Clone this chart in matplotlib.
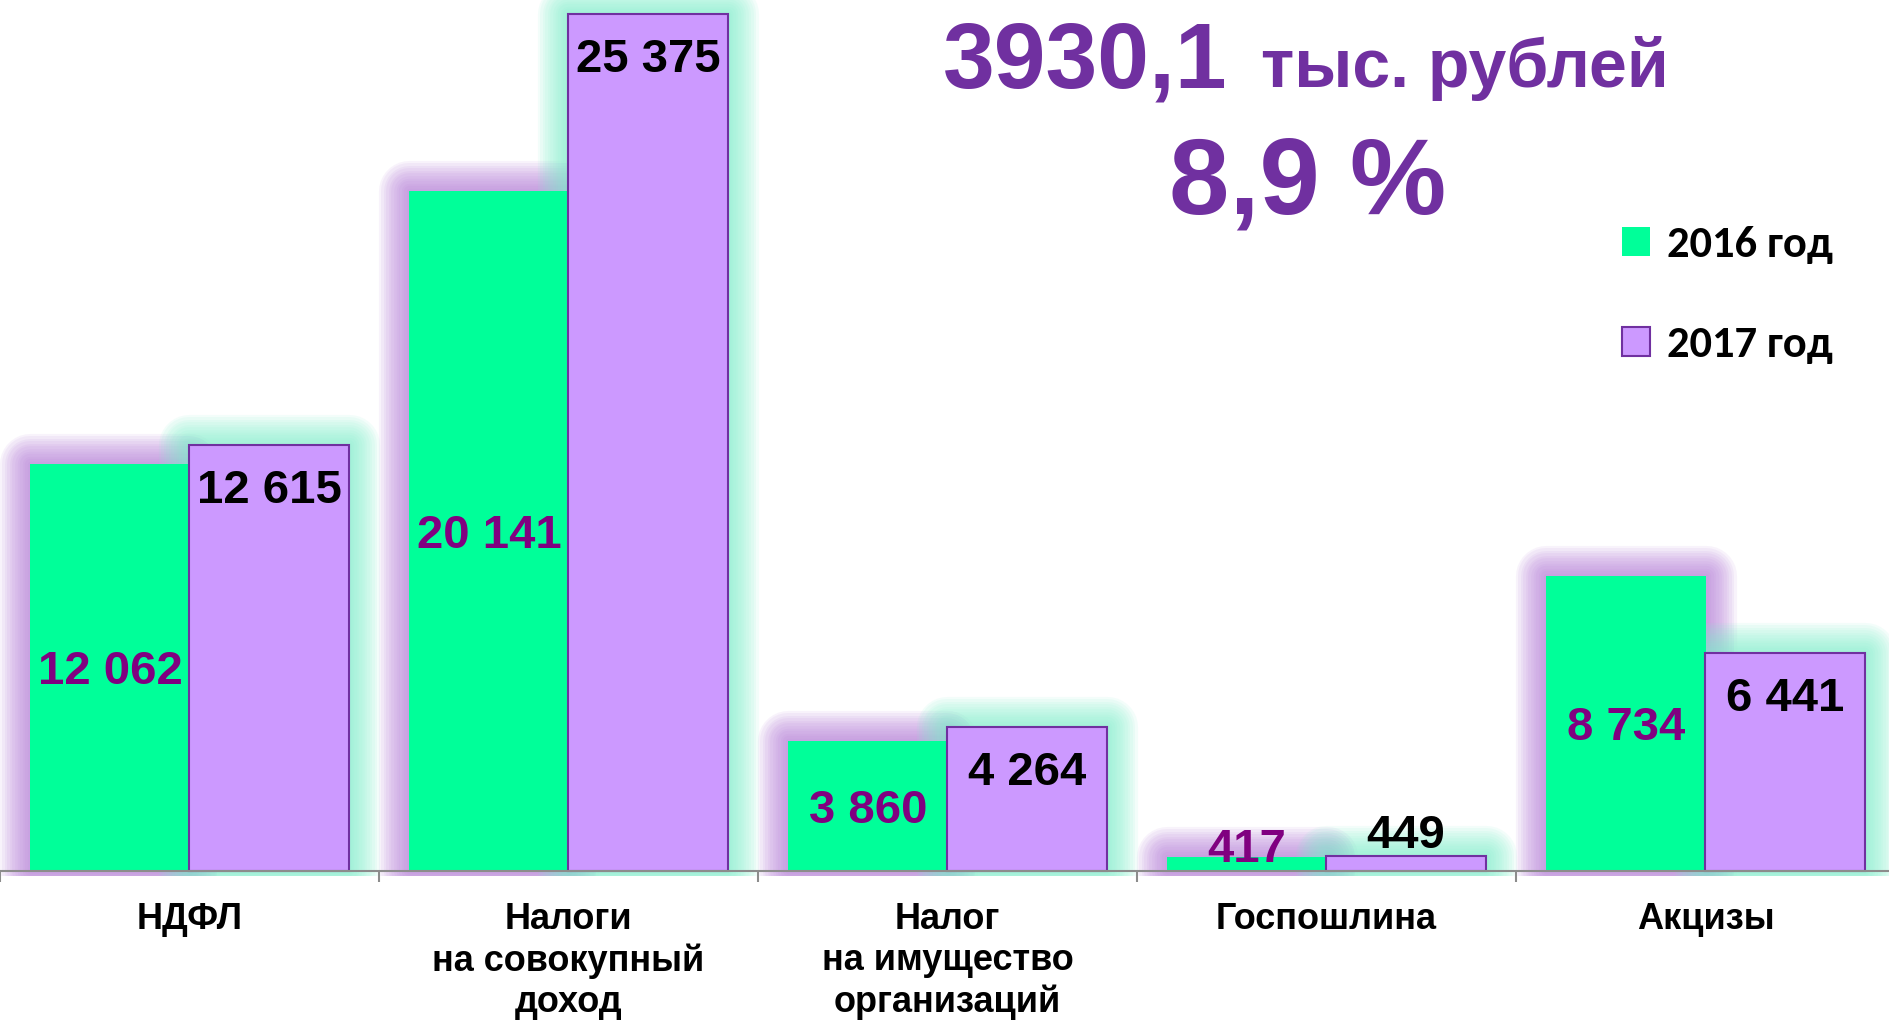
import matplotlib
matplotlib.use("Agg")
import matplotlib.pyplot as plt
import matplotlib.patheffects as pe
from matplotlib.transforms import Bbox, TransformedBbox
import numpy as np

categories = ['НДФЛ', 'Налоги\nна совокупный\nдоход', 'Налог\nна имущество\nорганизаций',
              'Госпошлина', 'Акцизы']
values_2016 = [12062, 20141, 3860, 417, 8734]
values_2017 = [12615, 25375, 4264, 449, 6441]
labels_2016 = ['12 062', '20 141', '3 860', '417', '8 734']
labels_2017 = ['12 615', '25 375', '4 264', '449', '6 441']
series_names = ['2016 год', '2017 год']
headline_sum = '3930,1'
headline_unit = 'тыс. рублей'
headline_pct = '8,9 %'

green = '#00FF99'
lilac = '#CC99FF'
lilac_edge = '#7030A0'
label_purple = '#800080'
title_purple = '#7030A0'

W, H = 1890, 1021
fig = plt.figure(figsize=(W / 100, H / 100), dpi=100)
fig.patch.set_facecolor('white')

base_px = 871
ax = fig.add_axes([0, (H - base_px) / H, 1895 / W, base_px / H])
ax.set_xlim(-0.5, 4.5)
ax.set_ylim(0, 25790)

x = np.arange(len(categories))
bw = 0.42


def glow(color, n=12, max_lw=44, alpha=0.09):
    return [pe.Stroke(linewidth=max_lw * (n - k) / n, foreground=color, alpha=alpha,
                      joinstyle='round') for k in range(n)]


# glow may spill above the axes but only a little below the baseline
glow_clip = TransformedBbox(Bbox([[-0.05, -0.006], [1.05, 1.2]]), ax.transAxes)

g1 = ax.bar(x - bw / 2, values_2016, bw, color='white', linewidth=0, zorder=1, alpha=0.0)
for p in g1:
    p.set_path_effects(glow('#B47AD8'))
    p.set_clip_box(glow_clip)
g2 = ax.bar(x + bw / 2, values_2017, bw, color='white', linewidth=0, zorder=1.1, alpha=0.0)
for p in g2:
    p.set_path_effects(glow('#7FF0CC'))
    p.set_clip_box(glow_clip)

b1 = ax.bar(x - bw / 2, values_2016, bw, color=green, linewidth=0, zorder=2,
            label=series_names[0])
b2 = ax.bar(x + bw / 2, values_2017, bw, color=lilac, edgecolor=lilac_edge, linewidth=1.5,
            zorder=2, label=series_names[1])
for p in list(b1) + list(b2):
    p.set_clip_on(False)

lab_font = dict(family=['Liberation Sans', 'DejaVu Sans'], fontweight='bold', fontsize=34)
for xi, v, t in zip(x, values_2016, labels_2016):
    ax.annotate(t, (xi - bw / 2, max(v / 2, 770)), xytext=(0, -3.5), textcoords='offset points',
                ha='center', va='center', color=label_purple, zorder=5, **lab_font)
for xi, v, t in zip(x, values_2017, labels_2017):
    off = -33 if v > 2000 else 14
    ax.annotate(t, (xi + bw / 2, v), xytext=(0, off), textcoords='offset points',
                ha='center', va='center', color='black', zorder=5, annotation_clip=False,
                **lab_font)

for s in ['left', 'right', 'top']:
    ax.spines[s].set_visible(False)
ax.spines['bottom'].set_color('#8C8C8C')
ax.spines['bottom'].set_linewidth(1.5)
ax.spines['bottom'].set_zorder(3)
ax.set_yticks([])
ax.set_xticks(x)
ax.set_xticklabels(categories, family=['Liberation Sans', 'DejaVu Sans'],
                   fontweight='bold', fontsize=26, linespacing=1.24, va='top')
ax.tick_params(axis='x', which='major', length=0, pad=22)
ax.set_xticks(np.arange(-0.5, 5.0, 1.0), minor=True)
ax.tick_params(axis='x', which='minor', length=8, width=1.5, color='#8C8C8C', direction='out')

leg = fig.legend(handles=[b1, b2], labels=series_names, loc='upper left',
                 bbox_to_anchor=(1622 / W, 1 - 226 / H), frameon=False,
                 prop=dict(family=['Carlito', 'Lato', 'DejaVu Sans'], weight='bold', size=32),
                 handlelength=0.62, handleheight=0.62, handletextpad=0.4,
                 labelspacing=1.4, borderpad=0, borderaxespad=0)

head_font = dict(family=['Liberation Sans', 'DejaVu Sans'], fontweight='bold',
                 color=title_purple)
t_sum = fig.text(0, 1 - 87 / H, headline_sum, ha='left', va='baseline', fontsize=67,
                 **head_font)
t_unit = fig.text(0, 1 - 87 / H, headline_unit, ha='left', va='baseline', fontsize=49,
                  **head_font)
fig.text(1308 / W, 1 - 213 / H, headline_pct, ha='center', va='baseline', fontsize=78,
         **head_font)

# centre the two-part first line on the same axis as the percentage
r = fig.canvas.get_renderer()
w_sum = t_sum.get_window_extent(r).width
w_unit = t_unit.get_window_extent(r).width
gap = 34
left = 1306 - (w_sum + gap + w_unit) / 2
t_sum.set_x(left / W)
t_unit.set_x((left + w_sum + gap) / W)

fig.savefig('out.png', dpi=100, facecolor='white')
